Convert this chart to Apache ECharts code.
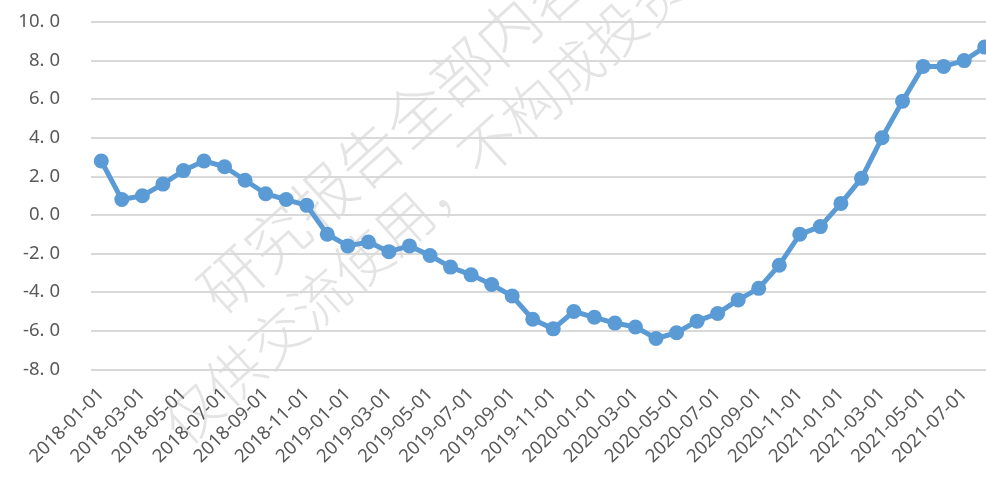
<!DOCTYPE html>
<html>
<head>
<meta charset="utf-8">
<style>
  html, body { margin: 0; padding: 0; background: #fff; }
  #chart { width: 986px; height: 482px; }
</style>
<script src="https://cdn.jsdelivr.net/npm/echarts@6/dist/echarts.min.js"></script>
</head>
<body>
<div id="chart"></div>
<script>
// Monthly series, 2018-01 to 2021-08
const months = [
  '2018-01-01','2018-02-01','2018-03-01','2018-04-01','2018-05-01','2018-06-01',
  '2018-07-01','2018-08-01','2018-09-01','2018-10-01','2018-11-01','2018-12-01',
  '2019-01-01','2019-02-01','2019-03-01','2019-04-01','2019-05-01','2019-06-01',
  '2019-07-01','2019-08-01','2019-09-01','2019-10-01','2019-11-01','2019-12-01',
  '2020-01-01','2020-02-01','2020-03-01','2020-04-01','2020-05-01','2020-06-01',
  '2020-07-01','2020-08-01','2020-09-01','2020-10-01','2020-11-01','2020-12-01',
  '2021-01-01','2021-02-01','2021-03-01','2021-04-01','2021-05-01','2021-06-01',
  '2021-07-01','2021-08-01'
];

const values = [
  2.8, 0.8, 1.0, 1.6, 2.3, 2.8,
  2.5, 1.8, 1.1, 0.8, 0.5, -1.0,
  -1.6, -1.4, -1.9, -1.6, -2.1, -2.7,
  -3.1, -3.6, -4.2, -5.4, -5.9, -5.0,
  -5.3, -5.6, -5.8, -6.4, -6.1, -5.5,
  -5.1, -4.4, -3.8, -2.6, -1.0, -0.6,
  0.6, 1.9, 4.0, 5.9, 7.7, 7.7,
  8.0, 8.7
];

const watermarkLines = ['研究报告全部内容', '仅供交流使用，不构成投资建议'];

const yMin = -8, yMax = 10, yStep = 2;

const chart = echarts.init(document.getElementById('chart'), null, { renderer: 'canvas' });

const labelFont = 'Noto Sans, DejaVu Sans, sans-serif';
const wmAngle = 42 * Math.PI / 180;
function wmStyle(text, size) {
  return {
    text: text,
    fontSize: size,
    fontFamily: 'Noto Sans CJK SC',
    fontWeight: 200,
    fill: 'rgba(205,205,205,0.55)',
    textAlign: 'left',
    align: 'left',
    textVerticalAlign: 'middle',
    verticalAlign: 'middle'
  };
}

chart.setOption({
  animation: false,
  backgroundColor: '#ffffff',
  // plot area runs slightly past the right edge of the canvas
  grid: { left: 91, width: 904, top: 22, bottom: 112.6, outerBoundsMode: 'none', containLabel: false },
  graphic: [
    { type: 'text', x: 208, y: 300, rotation: wmAngle, z: 0, silent: true,
      style: wmStyle(watermarkLines[0], 62) },
    { type: 'text', x: 171, y: 432, rotation: wmAngle, z: 0, silent: true,
      style: wmStyle(watermarkLines[1], 57) }
  ],
  xAxis: {
    type: 'category',
    data: months,
    boundaryGap: true,
    axisLine: { show: false },
    axisTick: { show: false },
    axisLabel: {
      interval: 1,
      rotate: 45,
      margin: 22,
      fontSize: 18.5,
      color: '#595959',
      fontFamily: labelFont
    }
  },
  yAxis: {
    type: 'value',
    min: yMin,
    max: yMax,
    interval: yStep,
    axisLine: { show: false },
    axisTick: { show: false },
    splitLine: { lineStyle: { color: '#d9d9d9', width: 2 } },
    axisLabel: {
      margin: 31,
      color: '#595959',
      fontSize: 18,
      fontFamily: labelFont,
      formatter: function (v) {
        const parts = v.toFixed(1).split('.');
        return '{i|' + parts[0] + '.}{d|' + parts[1] + '}';
      },
      rich: {
        i: { fontSize: 18.5, color: '#595959', fontFamily: labelFont },
        d: { fontSize: 18.5, color: '#595959', fontFamily: labelFont, padding: [0, 0, 0, 5] }
      }
    }
  },
  series: [{
    type: 'line',
    data: values,
    z: 3,
    symbol: 'circle',
    symbolSize: 15,
    showAllSymbol: true,
    lineStyle: { color: '#5B9BD5', width: 5 },
    itemStyle: { color: '#5B9BD5' }
  }]
});
</script>
</body>
</html>
